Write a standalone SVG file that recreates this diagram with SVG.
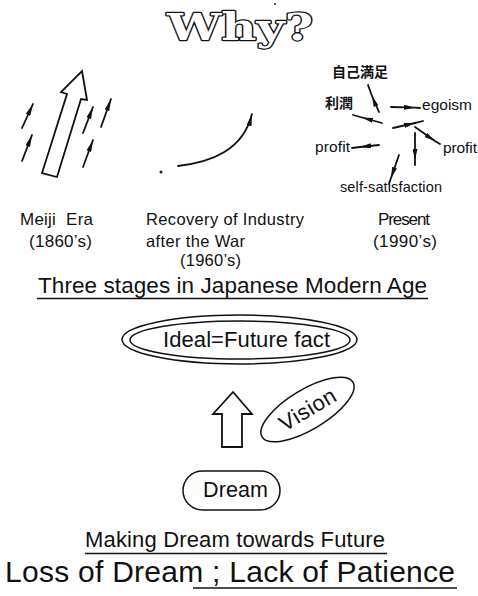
<svg xmlns="http://www.w3.org/2000/svg" width="478" height="596" viewBox="0 0 478 596">
  <style>
    .lbl { font-family: "Liberation Sans", Arial, sans-serif; fill: #111; white-space: pre; }
    .cjk { font-family: "Liberation Sans", "Noto Sans CJK JP", sans-serif; fill: #111; font-weight: bold; }
    .outline { fill: none; stroke: #111; stroke-width: 1.8; stroke-linejoin: miter; }
    .ln { fill: none; stroke: #111; stroke-width: 1.8; stroke-linecap: round; }
    .rule { stroke: #111; stroke-width: 1.5; }
  </style>
  <defs>
    <marker id="barb" viewBox="0 0 12 5" refX="12" refY="2.5" markerWidth="12" markerHeight="5" markerUnits="userSpaceOnUse" orient="auto">
      <path d="M0,0 L12,2.5 L0,5 z" fill="#111"/>
    </marker>
    <marker id="barb-s" viewBox="0 0 11 5" refX="11" refY="2.5" markerWidth="11" markerHeight="5" markerUnits="userSpaceOnUse" orient="auto">
      <path d="M0,0 L11,2.5 L0,5 z" fill="#111"/>
    </marker>
  </defs>

  <rect width="478" height="596" fill="#fff"/>

  <!-- heading: outlined slab letters -->
  <g id="title">
    <text x="167" y="40" textLength="146" lengthAdjust="spacingAndGlyphs" font-family="'DejaVu Serif', 'Liberation Serif', serif" font-weight="bold" font-size="38" fill="#fff" stroke="#111" stroke-width="2.4" stroke-linejoin="round" paint-order="stroke">Why?</text>
    <circle cx="275" cy="4" r="1.1" fill="#333"/>
  </g>

  <!-- stage 1: Meiji era -->
  <g id="meiji">
    <path class="outline" d="M82,71 L87,100 L81,99 L57,177 L42,173 L67,94 L61,92 Z"/>
    <text class="lbl" x="20" y="225" font-size="17" textLength="73">Meiji  Era</text>
    <text class="lbl" x="29" y="247" font-size="17" textLength="63">(1860’s)</text>
  </g>

  <!-- stage 2: post-war recovery -->
  <g id="recovery">
    <circle cx="161" cy="172" r="1.5" fill="#222"/>
    <text class="lbl" x="146" y="225" font-size="16.5" textLength="158">Recovery of Industry</text>
    <text class="lbl" x="146" y="247" font-size="16.5" textLength="99">after the War</text>
    <text class="lbl" x="180" y="266" font-size="16.5" textLength="61">(1960’s)</text>
  </g>

  <!-- stage 3: present -->
  <g id="present">
    <text class="cjk" x="332" y="77" font-size="14">自己満足</text>
    <text class="cjk" x="325" y="108" font-size="14">利潤</text>
    <text class="lbl" x="422" y="110" font-size="15.5" textLength="50">egoism</text>
    <text class="lbl" x="315" y="152" font-size="15.5" textLength="35">profit</text>
    <text class="lbl" x="443" y="153" font-size="15.5" textLength="34">profit</text>
    <text class="lbl" x="340" y="192" font-size="14.5" textLength="102">self-satisfaction</text>
    <text class="lbl" x="378" y="225" font-size="17" textLength="52">Present</text>
    <text class="lbl" x="373" y="247" font-size="17" textLength="64">(1990’s)</text>
  </g>

  <g id="stages-caption">
    <text class="lbl" x="38" y="293" font-size="22.5" textLength="389">Three stages in Japanese Modern Age</text>
    <line class="rule" x1="37" y1="298.5" x2="428" y2="298.5"/>
  </g>

  <g id="ideal">
    <ellipse cx="239.5" cy="339.5" rx="117.5" ry="24.5" fill="none" stroke="#111" stroke-width="1.5"/>
    <ellipse cx="240" cy="340" rx="110" ry="19" fill="none" stroke="#111" stroke-width="1.5"/>
    <text class="lbl" x="163" y="347" font-size="22" textLength="167">Ideal=Future fact</text>
  </g>

  <g id="vision" transform="rotate(-31 307.5 409.5)">
    <ellipse cx="307.5" cy="409.5" rx="53" ry="20" fill="none" stroke="#111" stroke-width="1.5"/>
    <text class="lbl" x="307.5" y="417" font-size="22" text-anchor="middle" textLength="62">Vision</text>
  </g>

  <g id="dream">
    <rect x="183" y="471" width="97" height="39" rx="19.5" fill="none" stroke="#111" stroke-width="1.5"/>
    <text class="lbl" x="203" y="497" font-size="21.5" textLength="65">Dream</text>
  </g>

  <g id="making-caption">
    <text class="lbl" x="85" y="547" font-size="22" textLength="300">Making Dream towards Future</text>
    <line class="rule" x1="85" y1="553.5" x2="387" y2="553.5"/>
  </g>

  <g id="loss-caption">
    <text class="lbl" x="5" y="582" font-size="30" textLength="450">Loss of Dream ; Lack of Patience</text>
    <line class="rule" x1="193" y1="588" x2="457" y2="588"/>
  </g>

  <!-- connectors -->
  <g id="connectors">
    <!-- small rising arrows around the Meiji arrow -->
    <path class="ln" d="M22,128 L33,104" marker-end="url(#barb)"/>
    <path class="ln" d="M22,161 L32,135" marker-end="url(#barb)"/>
    <path class="ln" d="M83,133 L93,107" marker-end="url(#barb)"/>
    <path class="ln" d="M101,127 L111,99" marker-end="url(#barb)"/>
    <path class="ln" d="M83,167 L93,140" marker-end="url(#barb)"/>

    <!-- recovery curve -->
    <path class="ln" d="M178,166 C212,162 243,150 252,114" stroke-width="2" marker-end="url(#barb)"/>

    <!-- scattered arrows of the present -->
    <path class="ln" d="M379,112 L372,96 L368,85" marker-mid="url(#barb-s)"/>
    <path class="ln" d="M382,123 L362,117.5 L353,115" marker-mid="url(#barb-s)"/>
    <path class="ln" d="M391,107 L415,107.7 L420,108" marker-mid="url(#barb-s)"/>
    <path class="ln" d="M393,128 L415,123 L423,121" marker-mid="url(#barb-s)"/>
    <path class="ln" d="M379,145 L360,147 L352,148" marker-mid="url(#barb-s)"/>
    <path class="ln" d="M415,127 L435,141 L440,144" marker-mid="url(#barb-s)"/>
    <path class="ln" d="M415,133 L415,160 L415,165" marker-mid="url(#barb-s)"/>
    <path class="ln" d="M399,155 L391,178 L389,184" marker-mid="url(#barb-s)"/>

    <!-- hollow arrow from Dream up to Ideal -->
    <path class="outline" d="M233,392 L252,414 L242,414 L242,447 L222,447 L222,414 L213,414 Z" stroke-width="1.6"/>
  </g>
</svg>
